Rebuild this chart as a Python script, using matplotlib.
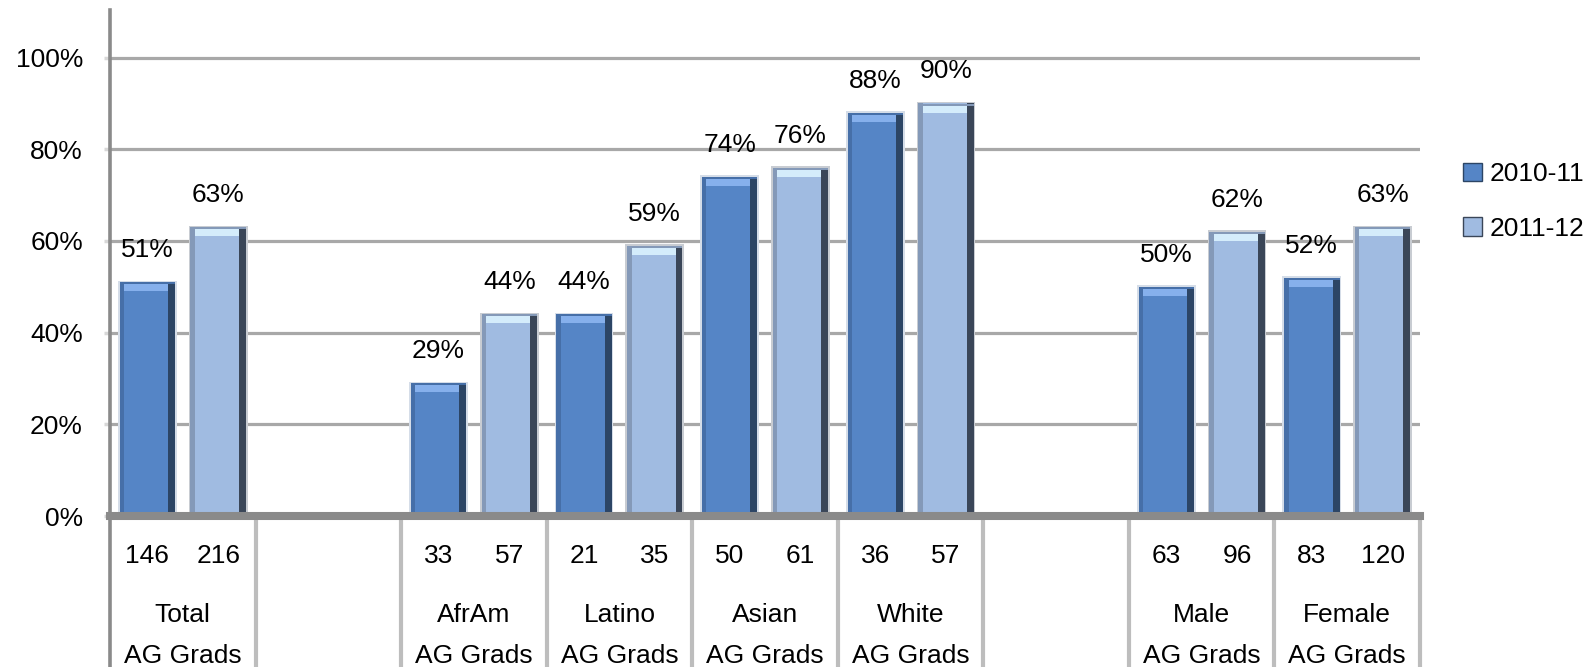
import matplotlib
matplotlib.use("Agg")
import matplotlib.pyplot as plt
from matplotlib.patches import Rectangle, Patch
import numpy as np

# ---------------- data ----------------
cat_line1 = ["Total", "", "AfrAm", "Latino", "Asian", "White", "", "Male", "Female"]
cat_line2 = ["AG Grads", "", "AG Grads", "AG Grads", "AG Grads", "AG Grads", "", "AG Grads", "AG Grads"]
pct_2010 = [51, None, 29, 44, 74, 88, None, 50, 52]
pct_2011 = [63, None, 44, 59, 76, 90, None, 62, 63]
n_2010 = [146, None, 33, 21, 50, 36, None, 63, 83]
n_2011 = [216, None, 57, 35, 61, 57, None, 96, 120]
series_names = ["2010-11", "2011-12"]
yticks = [0, 20, 40, 60, 80, 100]

# ---------------- style ----------------
plt.rcParams["font.family"] = ["Liberation Sans", "DejaVu Sans"]
FS = 19
TXT = "#000000"
styles = [
    dict(body="#5585c6", left="#466fa8", right="#2c4565", top="#86b0ec", rim="#d5dde8"),
    dict(body="#a0bbe1", left="#8499b8", right="#3a4658", top="#d4ecfb", rim="#c8ccd2"),
]

W, H = 1585, 667
Y0 = 516  # pixel row of 0%
fig = plt.figure(figsize=(W / 100, H / 100), dpi=100)
ax_left, ax_right = 110 / W, 1420 / W
ax_bottom, ax_top = (H - Y0) / H, (H - 10) / H
ax = fig.add_axes([ax_left, ax_bottom, ax_right - ax_left, ax_top - ax_bottom])

YMAX = 110.4
ax.set_xlim(-0.5, 8.5)
ax.set_ylim(0, YMAX)
ypx = YMAX / (Y0 - 10.0)  # data units per pixel (vertical)

ax.set_yticks(yticks)
ax.set_yticklabels([f"{v}%" for v in yticks], fontsize=FS, color=TXT)
ax.tick_params(axis="y", length=4.5, width=2.5, color="#d8d8d8", pad=15)
ax.set_xticks([])
ax.grid(axis="y", color="#a8a8a8", linewidth=2.3, zorder=0)
ax.set_axisbelow(True)
for s in ["top", "right"]:
    ax.spines[s].set_visible(False)
ax.spines["left"].set_color("#8a8a8a")
ax.spines["left"].set_linewidth(2.6)
ax.spines["bottom"].set_color("#8a8a8a")
ax.spines["bottom"].set_linewidth(5.8)
ax.spines["bottom"].set_zorder(5)

x = np.arange(len(cat_line1))
offsets = [-0.243, 0.243]
bw = 0.38

for si, (vals, counts) in enumerate([(pct_2010, n_2010), (pct_2011, n_2011)]):
    st = styles[si]
    for i, v in enumerate(vals):
        if v is None:
            continue
        xc = x[i] + offsets[si]
        x0 = xc - bw / 2
        # rim / halo
        ax.add_patch(Rectangle((x0 - 0.012, 0), bw + 0.024, v + 1.5 * ypx,
                               facecolor=st["rim"], edgecolor="none", zorder=2))
        ax.bar(xc, v, width=bw, color=st["body"], edgecolor="none", zorder=3)
        # left and right side strips
        ax.add_patch(Rectangle((x0, 0), bw * 0.08, v, facecolor=st["left"],
                               edgecolor="none", zorder=4))
        ax.add_patch(Rectangle((x0 + bw * 0.875, 0), bw * 0.125, v, facecolor=st["right"],
                               edgecolor="none", zorder=4))
        # top bevel highlight
        ax.add_patch(Rectangle((x0 + bw * 0.08, v - 9 * ypx), bw * 0.795, 7 * ypx,
                               facecolor=st["top"], edgecolor="none", zorder=4))
        ax.add_patch(Rectangle((x0, v - 2 * ypx), bw, 2 * ypx,
                               facecolor=st["left"], edgecolor="none", zorder=4))
        # value label
        ax.text(xc, v + 32 * ypx, f"{v}%", ha="center", va="center",
                fontsize=FS, color=TXT, zorder=6)
        # count under the axis
        ax.text(xc, -40 * ypx, f"{counts[i]}", ha="center", va="center",
                fontsize=FS, color=TXT, clip_on=False)

# category names (two lines)
for i in range(len(cat_line1)):
    if cat_line1[i]:
        ax.text(x[i], -99 * ypx, cat_line1[i], ha="center", va="center",
                fontsize=FS, color=TXT, clip_on=False)
        ax.text(x[i], -140 * ypx, cat_line2[i], ha="center", va="center",
                fontsize=FS, color=TXT, clip_on=False)

# table separators below axis
for b in np.arange(-0.5, 9.0, 1.0):
    col = "#8a8a8a" if b < 0 else "#bdbdbd"
    lw = 2.6 if b < 0 else 3.0
    ax.plot([b, b], [0, -170 * ypx], color=col, linewidth=lw,
            clip_on=False, zorder=1, solid_capstyle="butt")

# legend
handles = [Patch(facecolor=styles[0]["body"], edgecolor=styles[0]["right"]),
           Patch(facecolor=styles[1]["body"], edgecolor=styles[1]["right"])]
fig.legend(handles, series_names, loc="center left",
           bbox_to_anchor=(1450 / W, (H - 201.5) / H), frameon=False,
           fontsize=FS, handlelength=0.7, handleheight=0.7, handletextpad=0.3,
           labelspacing=1.15, borderpad=0, labelcolor=TXT)

fig.savefig("out.png", dpi=100)
